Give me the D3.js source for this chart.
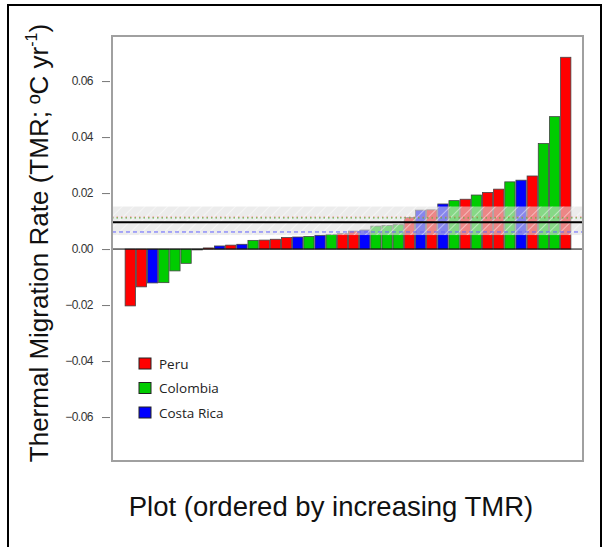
<!DOCTYPE html>
<html><head><meta charset="utf-8">
<script src="https://cdn.jsdelivr.net/npm/d3@7"></script>
<style>body{margin:0;background:#fff}svg{display:block}</style>
</head><body>
<svg id="c" width="608" height="547"></svg>
<script>
// ---- data ----
const plots = d3.range(1, 41).map(String);
const barCountry = ["Peru","Peru","Costa Rica","Colombia","Colombia","Colombia","Colombia","Peru","Costa Rica","Peru",
  "Costa Rica","Colombia","Peru","Peru","Peru","Costa Rica","Colombia","Costa Rica","Colombia","Peru",
  "Peru","Costa Rica","Colombia","Colombia","Colombia","Peru","Costa Rica","Peru","Costa Rica","Colombia",
  "Peru","Colombia","Peru","Peru","Colombia","Costa Rica","Peru","Colombia","Colombia","Peru"];
const tmr = [-0.0203,-0.0135,-0.0121,-0.0120,-0.0078,-0.0051,-0.0003,0.0004,0.0011,0.0014,
  0.0017,0.0031,0.0032,0.0035,0.0041,0.0043,0.0045,0.0049,0.0052,0.0055,
  0.0064,0.0068,0.0082,0.0084,0.0087,0.0113,0.0139,0.0140,0.0161,0.0173,
  0.0178,0.0193,0.0202,0.0214,0.0240,0.0246,0.0261,0.0377,0.0473,0.0685];
const legendNames = ["Peru","Colombia","Costa Rica"];
const legendColors = ["#ff0000","#00cc00","#0000ff"];
const yTicks = [-0.06,-0.04,-0.02,0.00,0.02,0.04,0.06];
const meanTMR = 0.0096, bandLow = 0.0050, bandHigh = 0.0152;
const peruMean = 0.0114, colombiaMean = 0.0111, costaMean = 0.0061;

const svg = d3.select("#c");
const m = {l:112, r:583, t:36, b:461};

// outer frame
svg.append("rect").attr("x",8).attr("y",5).attr("width",593).attr("height",560)
  .attr("fill","none").attr("stroke","#000").attr("stroke-width",2);

const color = d3.scaleOrdinal().domain(legendNames).range(legendColors);
const x = d3.scaleBand().domain(plots).range([124, 572]).paddingInner(0.08).paddingOuter(0.1);
const y = d3.scaleLinear().domain([-0.0757, 0.0761]).range([m.b, m.t]);

// defs: hatch
const defs = svg.append("defs");
const pat = defs.append("pattern").attr("id","hatch").attr("patternUnits","userSpaceOnUse")
  .attr("width",8).attr("height",8).attr("patternTransform","rotate(45)");
pat.append("rect").attr("width",8).attr("height",8).attr("fill","#e0e0e0").attr("fill-opacity",0.6);
pat.append("line").attr("x1",0).attr("y1",0).attr("x2",0).attr("y2",8)
  .attr("stroke","#ffffff").attr("stroke-width",1.5).attr("stroke-opacity",0.6);

// bars
svg.append("g").selectAll("rect").data(tmr).join("rect")
  .attr("x",(d,i)=>x(plots[i]))
  .attr("width",x.bandwidth())
  .attr("y",d=>y(Math.max(0,d)))
  .attr("height",d=>Math.max(0.8, Math.abs(y(d)-y(0))))
  .attr("fill",(d,i)=>color(barCountry[i]))
  .attr("stroke","#444").attr("stroke-width",0.8);

// band
svg.append("rect").attr("x",m.l).attr("width",m.r-m.l)
  .attr("y",y(bandHigh)).attr("height",y(bandLow)-y(bandHigh))
  .attr("fill","url(#hatch)");

// mean lines
const hline = (v,stroke,dash,w)=>svg.append("line").attr("x1",m.l).attr("x2",m.r)
  .attr("y1",y(v)).attr("y2",y(v)).attr("stroke",stroke).attr("stroke-width",w)
  .attr("stroke-dasharray",dash);
hline(peruMean,"#ff6060","1.5,3",1);
hline(colombiaMean,"#40c040","1.5,3",1);
hline(costaMean,"#6060ff","4,3",1);
hline(meanTMR,"#000","none",2);
hline(0,"#000","none",1);

// plot frame
svg.append("rect").attr("x",m.l).attr("y",m.t).attr("width",m.r-m.l).attr("height",m.b-m.t)
  .attr("fill","none").attr("stroke","#a0a0a0").attr("stroke-width",2);

// y axis
const yAxis = d3.axisLeft(y).tickValues(yTicks).tickSize(8).tickPadding(9)
  .tickFormat(d3.format(".2f"));
const ga = svg.append("g").attr("transform",`translate(${m.l-2},0)`).call(yAxis);
ga.select(".domain").remove();
ga.selectAll(".tick line").attr("stroke","#777");
ga.selectAll(".tick text").attr("font-family","Liberation Sans, Arial, sans-serif")
  .attr("font-size",12).attr("fill","#333").attr("letter-spacing","-0.5");

// y title
const yt = svg.append("text").attr("transform","translate(48,243) rotate(-90)")
  .attr("text-anchor","middle").attr("font-family","Liberation Sans, Arial, sans-serif")
  .attr("font-size",26).attr("fill","#111");
yt.append("tspan").text("Thermal Migration Rate (TMR; ºC yr");
yt.append("tspan").attr("font-size",16).attr("dy",-11).text("-1");
yt.append("tspan").attr("dy",11).text(")");

// x title
svg.append("text").attr("x",331).attr("y",516).attr("text-anchor","middle")
  .attr("font-family","Liberation Sans, Arial, sans-serif").attr("font-size",27.5)
  .attr("fill","#111").text("Plot (ordered by increasing TMR)");

// legend
const lg = svg.append("g").selectAll("g").data(legendNames).join("g")
  .attr("transform",(d,i)=>`translate(139,${358+i*24.5})`);
lg.append("rect").attr("width",12).attr("height",11).attr("fill",d=>color(d))
  .attr("stroke","#222").attr("stroke-width",1);
lg.append("text").attr("x",20).attr("y",10.5).attr("font-family","Open Sans, sans-serif")
  .attr("font-size",13.5).attr("fill","#222").text(d=>d);
</script>
</body></html>
